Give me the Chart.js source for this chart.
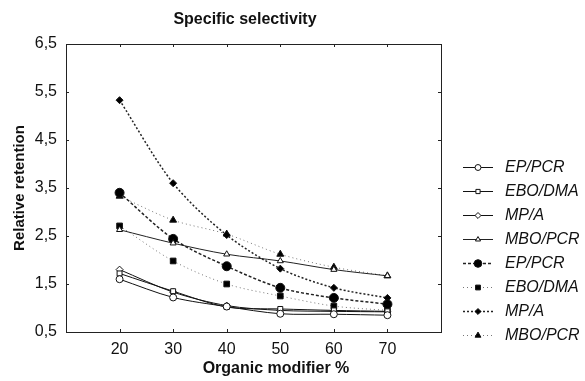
<!DOCTYPE html>
<html>
<head>
<meta charset="utf-8">
<script src="https://cdn.jsdelivr.net/npm/chart.js@4/dist/chart.umd.min.js"></script>
<style>
  html, body { margin: 0; padding: 0; background: #fff; }
  #wrap { width: 585px; height: 381px; }
</style>
</head>
<body>
<div id="wrap"><canvas id="grafico" width="585" height="381"></canvas></div>
<script>
// organic modifier %
const modifier = [20, 30, 40, 50, 60, 70];
const xTicks = [20, 30, 40, 50, 60, 70];
const yTicks = [0.5, 1.5, 2.5, 3.5, 4.5, 5.5, 6.5];

const labels = ['EP/PCR', 'EBO/DMA', 'MP/A', 'MBO/PCR', 'EP/PCR', 'EBO/DMA', 'MP/A', 'MBO/PCR'];

// open symbols (solid lines)
const epPcrOpen   = [1.60, 1.22, 1.03, 0.88, 0.87, 0.85];
const eboDmaOpen  = [1.72, 1.35, 1.02, 0.98, 0.95, 0.93];
const mpAOpen     = [1.80, 1.33, 1.05, 0.95, 0.93, 0.92];
const mboPcrOpen  = [2.63, 2.35, 2.12, 1.98, 1.80, 1.67];
// filled symbols (dotted lines)
const epPcrFill   = [3.40, 2.44, 1.87, 1.42, 1.21, 1.08];
const eboDmaFill  = [2.71, 1.98, 1.50, 1.25, 1.04, 0.95];
const mpAFill     = [5.33, 3.60, 2.52, 1.82, 1.42, 1.21];
const mboPcrFill  = [3.33, 2.83, 2.54, 2.12, 1.85, 1.67];

const pts = arr => arr.map((v, i) => ({ x: modifier[i], y: v }));

function serie(label, values, opts) {
  return Object.assign({
    label: label,
    data: pts(values),
    borderColor: '#111',
    borderWidth: 1,
    pointBorderColor: '#111',
    pointBackgroundColor: '#fff',
    pointBorderWidth: 1,
    pointRadius: 3.5,
    tension: 0.3,
    fill: false
  }, opts);
}

const datasets = [
  serie(labels[0], epPcrOpen,  { pointStyle: 'circle' }),
  serie(labels[1], eboDmaOpen, { pointStyle: 'rect' }),
  serie(labels[2], mpAOpen,    { pointStyle: 'rectRot' }),
  serie(labels[3], mboPcrOpen, { pointStyle: 'triangle', borderColor: '#222' }),
  serie(labels[4], epPcrFill,  { pointStyle: 'circle', pointBackgroundColor: '#000', pointRadius: 4.5, borderDash: [3, 2], borderWidth: 1.5, borderColor: '#222' }),
  serie(labels[5], eboDmaFill, { pointStyle: 'rect', pointBackgroundColor: '#000', pointRadius: 4, borderDash: [1, 3], borderColor: '#777' }),
  serie(labels[6], mpAFill,    { pointStyle: 'rectRot', pointBackgroundColor: '#000', pointRadius: 3.5, borderDash: [2, 2], borderWidth: 1.5, borderColor: '#222' }),
  serie(labels[7], mboPcrFill, { pointStyle: 'triangle', pointBackgroundColor: '#000', pointRadius: 4, borderDash: [1, 3], borderColor: '#777' })
];

const fmt = v => Number(v).toFixed(1).replace('.', ',');
const FONT = '"Liberation Sans", Arial, sans-serif';

// titles, frame, inner ticks and legend
const moldura = {
  id: 'moldura',
  afterDraw(chart) {
    const { ctx, chartArea: a, scales } = chart;
    ctx.save();
    ctx.strokeStyle = '#222';
    ctx.lineWidth = 1;
    ctx.setLineDash([]);
    ctx.strokeRect(a.left + 0.5, a.top + 0.5, a.right - a.left, a.bottom - a.top);
    ctx.beginPath();
    xTicks.forEach(v => {
      const x = Math.round(scales.x.getPixelForValue(v)) + 0.5;
      ctx.moveTo(x, a.bottom); ctx.lineTo(x, a.bottom - 3);
      ctx.moveTo(x, a.top); ctx.lineTo(x, a.top + 3);
    });
    yTicks.forEach(v => {
      const y = Math.round(scales.y.getPixelForValue(v)) + 0.5;
      ctx.moveTo(a.left, y); ctx.lineTo(a.left + 3, y);
      ctx.moveTo(a.right, y); ctx.lineTo(a.right - 3, y);
    });
    ctx.stroke();

    // titles
    ctx.fillStyle = '#111';
    ctx.textAlign = 'center';
    ctx.textBaseline = 'middle';
    ctx.font = 'bold 16px ' + FONT;
    ctx.fillText('Specific selectivity', 245, 20);
    ctx.fillText('Organic modifier %', 276, 369);

    // legend
    const x0 = 463, x1 = 493, tx = 505;
    let y = 167;
    chart.data.datasets.forEach(ds => {
      ctx.strokeStyle = ds.borderColor;
      ctx.lineWidth = ds.borderWidth;
      ctx.setLineDash(ds.borderDash || []);
      ctx.beginPath();
      ctx.moveTo(x0, y + 0.5); ctx.lineTo(x1, y + 0.5);
      ctx.stroke();
      ctx.setLineDash([]);
      ctx.fillStyle = ds.pointBackgroundColor;
      ctx.strokeStyle = ds.pointBorderColor;
      ctx.lineWidth = 1;
      Chart.helpers.drawPoint(ctx, { pointStyle: ds.pointStyle, radius: ds.pointRadius * 0.85, borderWidth: 1 }, (x0 + x1) / 2, y + 0.5);
      ctx.fillStyle = '#111';
      ctx.font = 'italic 16px ' + FONT;
      ctx.textBaseline = 'middle';
      ctx.textAlign = 'left';
      ctx.fillText(ds.label, tx, y + 1);
      y += 24;
    });
    ctx.restore();
  }
};

Chart.defaults.font.family = FONT;
Chart.defaults.color = '#111';

new Chart(document.getElementById('grafico').getContext('2d'), {
  type: 'line',
  data: { datasets },
  options: {
    responsive: false,
    animation: false,
    layout: { padding: { left: 0, right: 144, top: 44, bottom: 0 } },
    plugins: {
      legend: { display: false },
      tooltip: { enabled: false }
    },
    scales: {
      x: {
        type: 'linear',
        min: 10,
        max: 80,
        afterBuildTicks: s => { s.ticks = xTicks.map(v => ({ value: v })); },
        afterFit: s => { s.height = 49; },
        grid: { display: false, drawTicks: false },
        border: { display: false },
        ticks: { font: { size: 16 }, padding: 8, color: '#111' }
      },
      y: {
        min: 0.5,
        max: 6.5,
        afterBuildTicks: s => { s.ticks = yTicks.map(v => ({ value: v })); },
        afterFit: s => { s.width = 66; },
        grid: { display: false, drawTicks: false },
        border: { display: false },
        ticks: { font: { size: 16 }, padding: 9, color: '#111', callback: v => fmt(v) },
        title: { display: true, text: 'Relative retention', font: { size: 15, weight: 'bold' }, color: '#111', padding: { top: 11, bottom: 4 } }
      }
    }
  },
  plugins: [moldura]
});
</script>
</body>
</html>
